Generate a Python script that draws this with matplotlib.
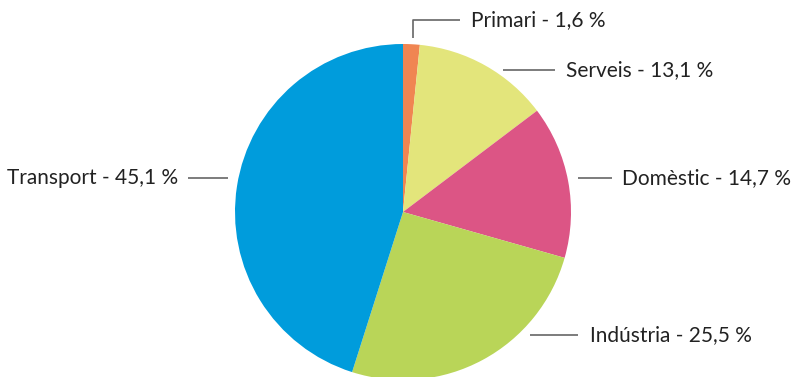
import matplotlib.pyplot as plt

labels = ['Primari', 'Serveis', 'Domèstic', 'Indústria', 'Transport']
shares = [1.6, 13.1, 14.7, 25.5, 45.1]
colors = ['#f08552', '#e3e57b', '#dc5585', '#b9d558', '#009cdc']

plt.rcParams['font.family'] = ['Lato', 'DejaVu Sans']

W, H = 791, 377
fig = plt.figure(figsize=(W / 100, H / 100), dpi=100)
ax = fig.add_axes([0, 0, 1, 1])

# pie drawn clockwise from 12 o'clock
ax.pie(shares, colors=colors, startangle=90, counterclock=False,
       center=(403, H - 212), radius=168, frame=True,
       wedgeprops=dict(linewidth=0))
ax.set_xlim(0, W)
ax.set_ylim(0, H)
ax.set_aspect('equal')
ax.axis('off')

line_kw = dict(color='#666666', lw=1.2, solid_capstyle='butt')
txt_kw = dict(fontsize=15, color='#222222', va='center')

# leader lines (pixel coordinates, y measured from top)
leaders = [
    [(413, 38), (413, 20), (460, 20)],
    [(503, 70), (555, 70)],
    [(578, 178), (612, 178)],
    [(530, 335), (578, 335)],
    [(188, 178), (228, 178)],
]
text_pos = [(471, 20, 'left'), (566, 70, 'left'), (622, 178, 'left'),
            (590, 335, 'left'), (178, 178, 'right')]

for lab, val, pts, (tx, ty, ha) in zip(labels, shares, leaders, text_pos):
    xs = [p[0] for p in pts]
    ys = [H - p[1] for p in pts]
    ax.plot(xs, ys, **line_kw)
    s = f'{lab} - {val:.1f} %'.replace('.', ',')
    ax.text(tx, H - ty, s, ha=ha, **txt_kw)

fig.savefig('out.png', dpi=100)
